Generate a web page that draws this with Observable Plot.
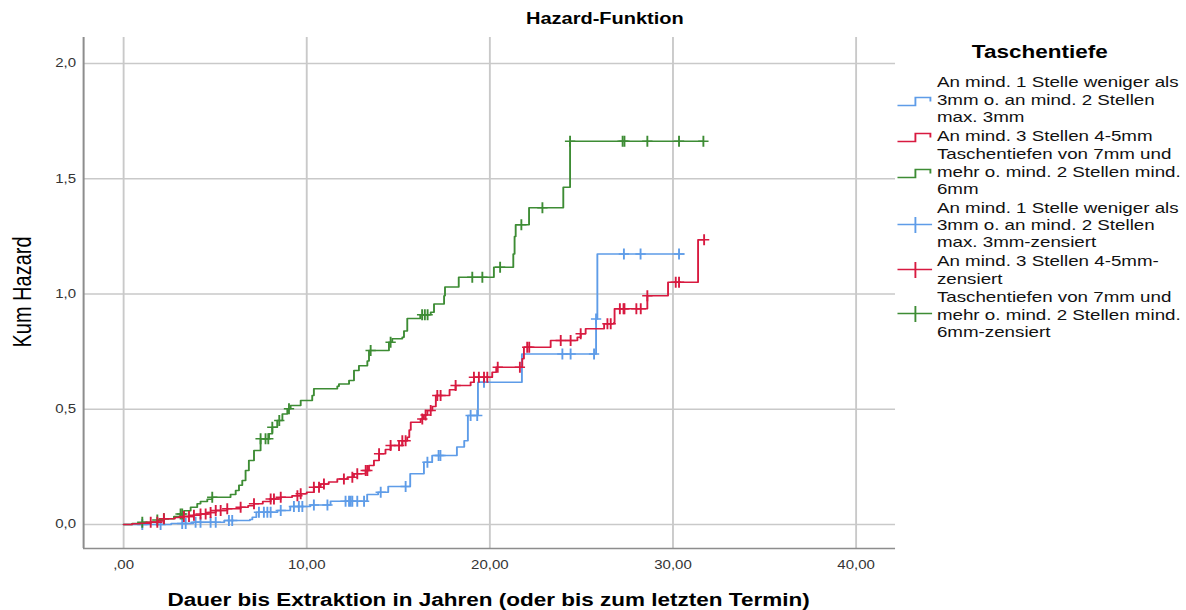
<!DOCTYPE html>
<html>
<head>
<meta charset="utf-8">
<script src="https://cdn.jsdelivr.net/npm/d3@7"></script>
<script src="https://cdn.jsdelivr.net/npm/@observablehq/plot@0.6"></script>
<style>
  html, body { margin: 0; padding: 0; background: #fff; }
  body { width: 1186px; height: 610px; overflow: hidden; font-family: "Liberation Sans", Arial, sans-serif; }
  #stage { position: absolute; left: 0; top: 0; width: 949px; height: 610px; transform: scaleX(1.2497); transform-origin: 0 0; }
  #chart { position: absolute; left: 0; top: 0; }
  .abs { position: absolute; white-space: nowrap; color: #000; }
  #title { left: 384px; top: 9px; width: 200px; text-align: center; font-weight: bold; font-size: 16px; line-height: 20px; }
  #xtitle { left: 41px; top: 590px; width: 700px; text-align: center; font-weight: bold; font-size: 18px; line-height: 20px; }
  #ytitle { left: -82.4px; top: 280px; width: 200px; height: 24px; text-align: center; font-size: 20px; line-height: 24px; transform: rotate(-90deg); transform-origin: 50% 50%; }
  #legtitle { left: 732px; top: 41px; width: 200px; text-align: center; font-weight: bold; font-size: 18px; line-height: 22px; }
  #legend { position: absolute; left: 717.7px; top: 73.3px; width: 231px; display: flex; flex-direction: column; gap: 1.5px; }
  .item { display: flex; align-items: center; }
  .sw { width: 28px; flex: 0 0 28px; margin-right: 4px; }
  .lbl { font-size: 15px; line-height: 17.3px; color: #111; white-space: nowrap; }
</style>
</head>
<body>
<div id="stage">
  <div id="chart"></div>
  <div id="title" class="abs">Hazard-Funktion</div>
  <div id="ytitle" class="abs">Kum Hazard</div>
  <div id="xtitle" class="abs">Dauer bis Extraktion in Jahren (oder bis zum letzten Termin)</div>
  <div id="legtitle" class="abs">Taschentiefe</div>
  <div id="legend"></div>
</div>
<script>
// ---------- data ----------
const xTicks = [0, 10, 20, 30, 40];
const yTicks = [0, 0.5, 1, 1.5, 2];
const xDomain = [-2.185, 42.16];
const yDomain = [-0.104, 2.113];

const groupNames = [
  "An mind. 1 Stelle weniger als 3mm o. an mind. 2 Stellen max. 3mm",
  "An mind. 3 Stellen 4-5mm",
  "Taschentiefen von 7mm und mehr o. mind. 2 Stellen mind. 6mm"
];
const groupColors = ["#5e9ce8", "#d81a40", "#3d8c34"];

// blue group: step times and cumulative hazard
const blueTime   = [0, 2.6, 3.8, 5.5, 6.9, 7.03, 7.25, 8.4, 9.1, 10.2, 11.3, 13.3, 13.9, 14.45, 15.65, 16.4, 16.85, 18.2, 18.6, 18.8, 19.35, 21.75, 25.8, 25.87, 30.6];
const blueHazard = [0, 0.005, 0.01, 0.017, 0.022, 0.032, 0.053, 0.061, 0.078, 0.085, 0.101, 0.13, 0.14, 0.165, 0.22, 0.27, 0.3, 0.336, 0.364, 0.473, 0.617, 0.74, 0.892, 1.174, 1.174];
const blueCensorTime   = [1.02, 2.02, 3.2, 3.39, 3.93, 4.2, 4.75, 5.03, 5.75, 5.93, 7.39, 7.66, 7.85, 8.03, 8.58, 9.3, 9.57, 9.76, 10.39, 11.13, 12.12, 12.31, 12.4, 12.49, 12.76, 13.13, 14.04, 15.4, 16.59, 17.2, 17.3, 18.95, 19.31, 19.68, 23.96, 24.41, 25.69, 25.8, 27.32, 28.23, 30.33];
const blueCensorHazard = [0, 0, 0.005, 0.005, 0.01, 0.01, 0.01, 0.01, 0.017, 0.017, 0.053, 0.053, 0.053, 0.053, 0.061, 0.078, 0.078, 0.078, 0.085, 0.085, 0.101, 0.101, 0.101, 0.101, 0.101, 0.101, 0.14, 0.165, 0.27, 0.3, 0.3, 0.473, 0.473, 0.617, 0.74, 0.74, 0.74, 0.892, 1.174, 1.174, 1.174];

// red group
const redTime   = [0, 0.47, 0.9, 1.48, 1.9, 2.2, 2.8, 3.29, 3.8, 4.2, 4.6, 5.03, 5.66, 6.39, 6.8, 7.12, 7.6, 8.03, 8.58, 9.2, 9.67, 10.0, 10.39, 10.76, 11.2, 11.67, 12.22, 12.58, 13.22, 13.4, 13.67, 13.95, 14.3, 14.58, 15.22, 15.49, 15.6, 15.68, 16.22, 16.4, 16.59, 16.86, 17.05, 17.8, 18.13, 18.95, 19.13, 20.13, 20.35, 21.77, 21.86, 23.32, 24.78, 24.96, 25.23, 26.24, 26.78, 26.81, 28.6, 29.73, 31.37, 31.7];
const redHazard = [0, 0.003, 0.006, 0.01, 0.015, 0.025, 0.03, 0.035, 0.04, 0.046, 0.052, 0.061, 0.068, 0.075, 0.082, 0.09, 0.1, 0.111, 0.118, 0.125, 0.133, 0.14, 0.162, 0.176, 0.185, 0.198, 0.205, 0.22, 0.234, 0.256, 0.278, 0.307, 0.325, 0.343, 0.364, 0.379, 0.41, 0.444, 0.458, 0.475, 0.495, 0.512, 0.56, 0.585, 0.603, 0.617, 0.639, 0.661, 0.682, 0.719, 0.769, 0.798, 0.813, 0.828, 0.849, 0.871, 0.877, 0.936, 0.993, 1.051, 1.235, 1.235];
const redCensorTime   = [1.48, 1.84, 2.2, 3.29, 3.57, 3.84, 4.2, 4.48, 4.75, 5.03, 5.3, 5.66, 6.39, 7.12, 8.03, 8.21, 8.58, 9.49, 9.67, 10.39, 10.67, 10.94, 12.03, 12.49, 12.76, 13.22, 13.31, 13.95, 14.58, 15.04, 15.22, 15.4, 16.31, 16.49, 16.77, 17.13, 17.31, 18.13, 19.13, 19.4, 19.68, 19.86, 20.43, 21.64, 22.04, 22.15, 23.87, 24.41, 24.96, 26.42, 26.6, 27.1, 27.3, 27.35, 28.0, 28.24, 28.6, 30.15, 30.33, 31.7];
const redCensorHazard = [0.01, 0.01, 0.025, 0.035, 0.035, 0.04, 0.046, 0.046, 0.052, 0.061, 0.061, 0.068, 0.075, 0.09, 0.111, 0.111, 0.118, 0.125, 0.133, 0.162, 0.162, 0.176, 0.198, 0.205, 0.22, 0.234, 0.234, 0.307, 0.343, 0.343, 0.364, 0.364, 0.458, 0.475, 0.495, 0.56, 0.56, 0.603, 0.639, 0.639, 0.639, 0.639, 0.682, 0.682, 0.769, 0.769, 0.798, 0.798, 0.828, 0.871, 0.871, 0.936, 0.936, 0.936, 0.936, 0.936, 0.993, 1.051, 1.051, 1.235];

// green group
const greenTime   = [0, 0.47, 1.02, 1.84, 2.2, 2.75, 3.11, 3.3, 3.66, 4.02, 4.2, 4.57, 4.84, 5.84, 6.12, 6.3, 6.48, 6.66, 6.84, 7.12, 7.48, 7.94, 8.12, 8.39, 8.67, 8.94, 9.12, 9.67, 10.3, 10.39, 11.67, 11.76, 12.31, 12.58, 12.85, 13.31, 13.4, 14.49, 14.67, 15.22, 15.31, 15.49, 16.2, 16.77, 16.95, 17.5, 17.55, 18.3, 20.22, 21.28, 21.35, 21.41, 22.14, 24.01, 24.38, 31.66];
const greenHazard = [0, 0.005, 0.01, 0.02, 0.025, 0.035, 0.046, 0.06, 0.075, 0.09, 0.1, 0.11, 0.118, 0.13, 0.148, 0.17, 0.191, 0.234, 0.278, 0.321, 0.372, 0.394, 0.422, 0.451, 0.48, 0.502, 0.516, 0.538, 0.56, 0.589, 0.6, 0.61, 0.625, 0.668, 0.689, 0.71, 0.755, 0.791, 0.806, 0.813, 0.84, 0.894, 0.91, 0.921, 0.957, 0.993, 1.03, 1.073, 1.116, 1.174, 1.25, 1.301, 1.374, 1.463, 1.663, 1.663];
const greenCensorTime   = [1.02, 1.84, 2.2, 3.11, 3.2, 4.84, 7.48, 7.75, 7.9, 8.12, 8.5, 9.03, 13.49, 14.58, 16.3, 16.45, 16.6, 19.04, 19.59, 20.56, 21.72, 22.87, 24.38, 27.25, 27.35, 28.6, 30.33, 31.66];
const greenCensorHazard = [0.01, 0.02, 0.025, 0.046, 0.046, 0.118, 0.372, 0.372, 0.372, 0.422, 0.451, 0.502, 0.755, 0.791, 0.91, 0.91, 0.91, 1.073, 1.073, 1.116, 1.301, 1.374, 1.663, 1.663, 1.663, 1.663, 1.663, 1.663];

const legendLines = [
  ["An mind. 1 Stelle weniger als", "3mm o. an mind. 2 Stellen", "max. 3mm"],
  ["An mind. 3 Stellen 4-5mm"],
  ["Taschentiefen von 7mm und", "mehr o. mind. 2 Stellen mind.", "6mm"],
  ["An mind. 1 Stelle weniger als", "3mm o. an mind. 2 Stellen", "max. 3mm-zensiert"],
  ["An mind. 3 Stellen 4-5mm-", "zensiert"],
  ["Taschentiefen von 7mm und", "mehr o. mind. 2 Stellen mind.", "6mm-zensiert"]
];
const legendKinds = ["step", "step", "step", "censor", "censor", "censor"];
const legendGroup = [0, 1, 2, 0, 1, 2];

// ---------- build ----------
const series = [
  {time: blueTime, hazard: blueHazard, cTime: blueCensorTime, cHazard: blueCensorHazard, color: groupColors[0]},
  {time: greenTime, hazard: greenHazard, cTime: greenCensorTime, cHazard: greenCensorHazard, color: groupColors[2]},
  {time: redTime, hazard: redHazard, cTime: redCensorTime, cHazard: redCensorHazard, color: groupColors[1]}
];

const plusSymbol = {
  draw(ctx, size) {
    const r = Math.sqrt(size / Math.PI);
    ctx.moveTo(0, -r); ctx.lineTo(0, r);
    ctx.moveTo(-r * 0.75, 0); ctx.lineTo(r * 0.75, 0);
  }
};

const fmtX = d => d === 0 ? ",00" : d.toFixed(2).replace(".", ",");
const fmtY = d => d.toFixed(1).replace(".", ",");

const marks = [
  Plot.gridX(xTicks, {stroke: "#c9c9c9", strokeOpacity: 1, strokeWidth: 1.5}),
  Plot.gridY(yTicks, {stroke: "#c9c9c9", strokeOpacity: 1, strokeWidth: 1.5}),
  Plot.ruleX([xDomain[0]], {stroke: "#8d8d8d", strokeWidth: 1.6}),
  Plot.ruleY([yDomain[0]], {stroke: "#8d8d8d", strokeWidth: 1.6}),
  Plot.axisX(xTicks, {tickSize: 0, tickPadding: 12, tickFormat: fmtX, fontSize: 12, fill: "#333", label: null}),
  Plot.axisY(yTicks, {tickSize: 0, tickPadding: 6, tickFormat: fmtY, fontSize: 12, fill: "#333", label: null})
];
for (const s of series) {
  const rows = s.time.map((t, i) => ({t, h: s.hazard[i]}));
  const crows = s.cTime.map((t, i) => ({t, h: s.cHazard[i]}));
  marks.push(Plot.line(rows, {x: "t", y: "h", stroke: s.color, strokeWidth: 1.5, curve: "step-after"}));
  marks.push(Plot.dot(crows, {x: "t", y: "h", stroke: s.color, fill: "none", symbol: plusSymbol, r: 5.5, strokeWidth: 1.5}));
}

const chart = Plot.plot({
  width: 949,
  height: 610,
  marginTop: 37,
  marginBottom: 62,
  marginLeft: 66.4,
  marginRight: 232.8,
  style: {fontFamily: "'Liberation Sans', Arial, sans-serif", fontSize: "12px", background: "transparent", color: "#333"},
  x: {domain: xDomain, label: null},
  y: {domain: yDomain, label: null},
  marks
});
document.getElementById("chart").appendChild(chart);

// legend
const legend = document.getElementById("legend");
legendLines.forEach((lines, i) => {
  const color = groupColors[legendGroup[i]];
  const row = document.createElement("div");
  row.className = "item";
  let sw;
  if (legendKinds[i] === "step") {
    sw = `<svg class="sw" width="28" height="14" style="transform:translateY(2px)"><path d="M0,11.5H14.5V3.5H26.5V7.5" fill="none" stroke="${color}" stroke-width="1.5"/></svg>`;
  } else {
    sw = `<svg class="sw" width="28" height="18"><path d="M0,8.5H28M14.5,1V17" fill="none" stroke="${color}" stroke-width="1.5"/></svg>`;
  }
  row.innerHTML = sw + `<div class="lbl">${lines.join("<br>")}</div>`;
  legend.appendChild(row);
});
</script>
</body>
</html>
